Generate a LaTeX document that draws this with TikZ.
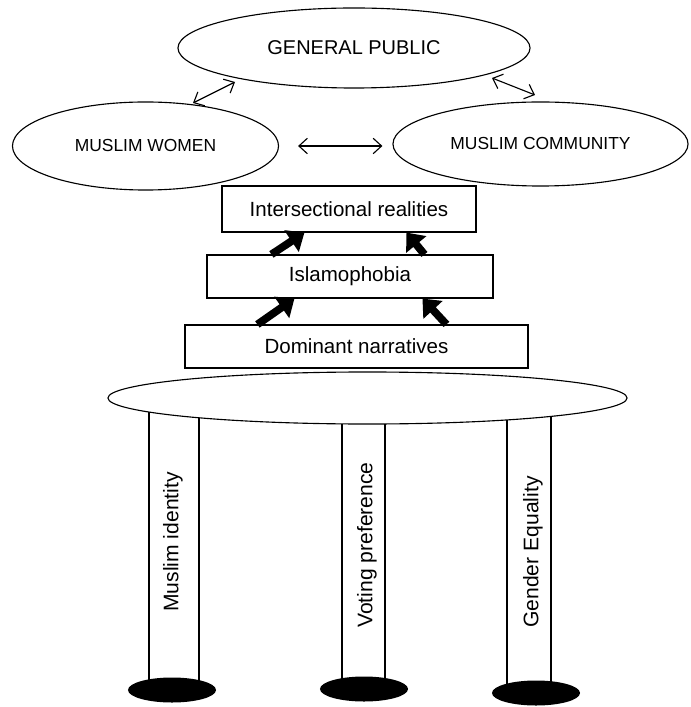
\documentclass[tikz,border=0pt]{standalone}
\usepackage{fontspec}
\setmainfont{Liberation Sans}
\usetikzlibrary{shapes.geometric,arrows.meta}

\begin{document}
\begin{tikzpicture}[x=0.025cm, y=-0.025cm, line width=0.8pt,
        group/.style={draw, ellipse, inner sep=0pt},
        layer/.style={draw, rectangle, inner sep=0pt, minimum height=1.1cm, font=\fontsize{14.6}{16}\selectfont},
        link/.style={{Straight Barb[length=6pt,width=11pt]}-{Straight Barb[length=6pt,width=11pt]}},
        push/.style={line width=5.5pt, -{Triangle[length=11pt,width=18pt]}},
        pillar/.style={draw, fill=white},
        foot/.style={fill=black, ellipse, inner sep=0pt, minimum width=2.2cm, minimum height=0.625cm},
        label/.style={rotate=90, inner sep=0pt, font=\fontsize{15}{17}\selectfont}]
        \useasboundingbox (0,0) rectangle (690,707);

        \node[group, minimum width=8.8cm, minimum height=2cm, font=\fontsize{14.2}{16}\selectfont] (pub) at (354,48) {GENERAL PUBLIC};
        \node[group, minimum width=6.65cm, minimum height=2.2cm, font=\fontsize{12.4}{14}\selectfont] (mw) at (145.5,146) {MUSLIM WOMEN};
        \node[group, minimum width=7.375cm, minimum height=2.1cm, font=\fontsize{12.4}{14}\selectfont] (mc) at (540.5,144) {MUSLIM COMMUNITY};

        \draw[link] ([shift={(47.5,-43)}]mw.center) -- ([shift={(-119,34)}]pub.center);
        \draw[link] ([shift={(138,30)}]pub.center) -- ([shift={(-5.5,-49)}]mc.center);
        \draw[link, shorten <=0.475cm, shorten >=0.25cm] (mw.east) -- (mw.east -| mc.west);

        \node[layer, minimum width=6.35cm, minimum height=1.15cm] (inter) at (349,209) {Intersectional realities};
        \node[layer, minimum width=7.15cm, minimum height=1.075cm] (isl) at (350,276.5) {Islamophobia};
        \node[layer, minimum width=8.575cm, minimum height=1.075cm] (dom) at (356.5,346.5) {Dominant narratives};

        \draw[push] ([xshift=1.625cm]isl.north west) -- ([xshift=2.075cm]inter.south west);
        \draw[push] ([xshift=5.45cm]isl.north west) -- ([xshift=4.625cm]inter.south west);
        \draw[push] ([xshift=1.825cm]dom.north west) -- ([xshift=2.2cm]isl.south west);
        \draw[push] ([xshift=6.55cm]dom.north west) -- ([xshift=5.4cm]isl.south west);

        \draw[pillar] (149,398) rectangle (199,690);
        \draw[pillar] (342,398) rectangle (385,689);
        \draw[pillar] (507,398) rectangle (551,693);

        \node[group, fill=white, minimum width=12.975cm, minimum height=1.3cm] (base) at (367.5,398) {};

        \node[foot] (f1) at (172,690) {};
        \node[foot] (f2) at (364,689) {};
        \node[foot] (f3) at (536,693) {};

        \node[label] (id) at (173,542) {Muslim identity};
        \node[label] (vote) at (367,545) {Voting preference};
        \node[label] (gen) at (533,552) {Gender Equality};

\end{tikzpicture}
\end{document}
